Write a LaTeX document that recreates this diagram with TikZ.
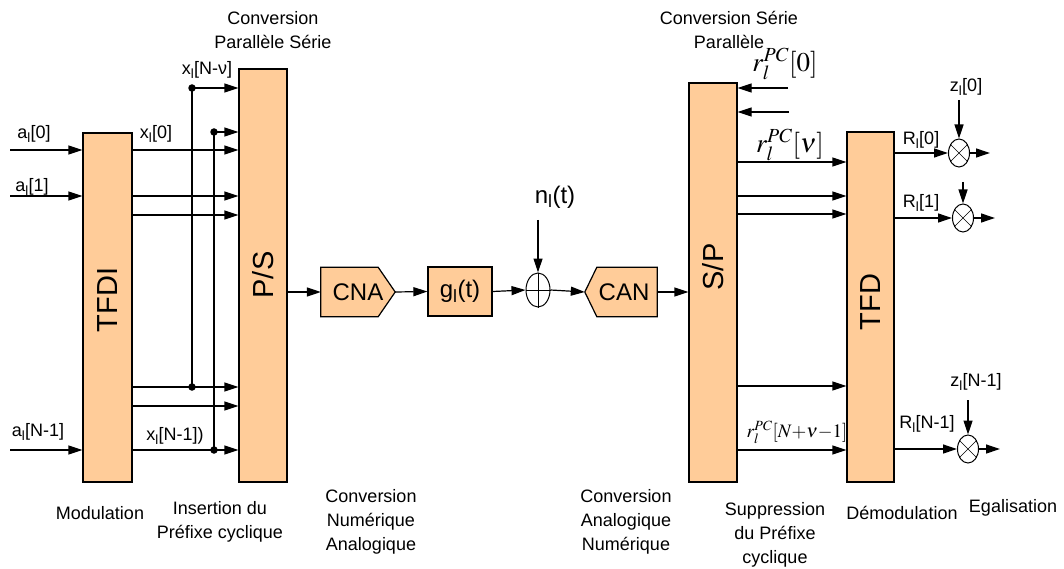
\documentclass[tikz,border=0pt]{standalone}
\usepackage{mathptmx}
\usepackage{fontspec}
\setmainfont{Liberation Sans}
\usepackage{tikz}
\usetikzlibrary{arrows.meta,shapes.geometric}
\definecolor{peach}{RGB}{255,204,153}
\tikzset{
  blk/.style={draw, fill=peach, line width=1.2pt, inner sep=0pt},
  fl/.style={line width=1.2pt, -{Triangle[length=14pt,width=9pt]}},
  lbl/.style={font=\fontsize{18}{24}\selectfont, align=center, inner sep=0pt},
  big/.style={font=\fontsize{29}{30}\selectfont, inner sep=0pt},
  mid/.style={font=\fontsize{24}{26}\selectfont, inner sep=0pt},
  mth/.style={font=\fontsize{27}{28}\selectfont, inner sep=0pt},
  mult/.style={draw, ellipse, line width=1pt, minimum width=21pt, minimum height=28pt, inner sep=0pt},
  dot/.style={circle, fill, minimum size=7.5pt, inner sep=0pt}
}

\begin{document}
\begin{tikzpicture}[x=1pt,y=-1pt]
\useasboundingbox (0,0) rectangle (1064,569);

% blocs
\node[blk, minimum width=49pt, minimum height=349pt] (tfdi) at (107.5,307.5) {};
\node[blk, minimum width=48pt, minimum height=413pt] (ps) at (263,275.5) {};
\node[blk, minimum width=48pt, minimum height=399pt] (sp) at (713,282.5) {};
\node[blk, minimum width=47pt, minimum height=350pt] (tfd) at (870.5,307) {};
\node[big, rotate=90] (tfdit) at (107.5,300) {TFDI};
\node[big, rotate=90] (pst) at (263,275) {P/S};
\node[big, rotate=90] (spt) at (713,267) {S/P};
\node[big, rotate=90] (tfdt) at (870.5,302) {TFD};

\node[minimum width=74pt, minimum height=49pt, inner sep=0pt] (cna) at (358,292) {};
\filldraw[fill=peach, line width=1.2pt, line join=miter] (cna.north west) -- ([xshift=-17pt]cna.north east)
  -- (cna.east) -- ([xshift=-17pt]cna.south east) -- (cna.south west) -- cycle;
\node[mid] (cnaname) at (cna) {CNA};
\node[blk, mid, minimum width=64pt, minimum height=49pt] (gl) at (460,291.5) {g\textsubscript{l}(t)};
\node[draw, ellipse, line width=1pt, minimum width=24pt, minimum height=34pt, inner sep=0pt] (add) at (538,290) {};
\draw[thin] (add.north) -- (add.south) (add.west) -- (add.east);
\node[minimum width=72pt, minimum height=49pt, inner sep=0pt] (can) at (621,292) {};
\filldraw[fill=peach, line width=1.2pt, line join=miter] (can.west) -- ([xshift=12pt]can.north west)
  -- (can.north east) -- (can.south east) -- ([xshift=12pt]can.south west) -- cycle;
\node[mid] (canname) at ([xshift=3pt]can.center) {CAN};

% entrees
\coordinate (ain0) at (10,150);
\coordinate (ain1) at (10,196);
\coordinate (ainN) at (10,450);
\foreach \a in {ain0,ain1,ainN}
  \draw[fl] (\a) -- (\a -| tfdi.west);
\node[lbl] (a0) at (34,134) {a\textsubscript{l}[0]};
\node[lbl] (a1) at (32,187) {a\textsubscript{l}[1]};
\node[lbl] (aN) at (38,432) {a\textsubscript{l}[N-1]};

% TFDI vers P/S
\foreach \y in {150,196,215,387,406,450}
  \draw[fl] (tfdi.east |- 0,\y) -- (ps.west |- 0,\y);
\coordinate (tapA) at (192,387);
\coordinate (tapB) at (214,450);
\draw[fl] (tapA) |- (ps.west |- 0,88);
\draw[fl] (tapB) |- (ps.west |- 0,132);
\node[dot] (dA1) at (tapA) {};
\node[dot] (dA2) at (tapA |- 0,88) {};
\node[dot] (dB1) at (tapB) {};
\node[dot] (dB2) at (tapB |- 0,132) {};
\node[lbl] (xNv) at (207,70) {x\textsubscript{l}[N-ν]};
\node[lbl] (x0) at (156,134) {x\textsubscript{l}[0]};
\node[lbl] (xN) at (175,436) {x\textsubscript{l}[N-1])};

% chaine
\draw[fl] (ps.east |- cna.west) -- (cna.west);
\draw[fl] (cna.east) -- (gl.west);
\draw[fl] (gl.east) -- (add.west);
\draw[fl] (add.east) -- (can.west);
\draw[fl] (can.east) -- (sp.west |- can.east);
\coordinate (nin) at (538,220);
\draw[fl] (nin) -- (add.north);
\node[mid] (nl) at (555,197) {n\textsubscript{l}(t)};

% S/P
\coordinate (pc0) at (788,88);
\coordinate (pc1) at (789,112);
\draw[fl] (pc0) -- (sp.east |- pc0);
\draw[fl] (pc1) -- (sp.east |- pc1);
\node[mth] (r0) at (785,64) {$r_l^{PC}[0]$};
\node[mth] (rv) at (790,145) {$r_l^{PC}[\nu]$};
\node[inner sep=0pt, font=\fontsize{19}{20}\selectfont] (rN) at (797,432) {$r_l^{PC}[N{+}\nu{-}1]$};
\foreach \y in {162,196,214,386,450}
  \draw[fl] (sp.east |- 0,\y) -- (tfd.west |- 0,\y);

% egalisation
\node[mult] (m0) at (959,153) {};
\node[mult] (m1) at (963,218) {};
\node[mult] (m2) at (968,449) {};
\foreach \m in {m0,m1,m2}{
  \draw[thin] (\m.45) -- (\m.225) (\m.135) -- (\m.315);
  \draw[fl] (tfd.east |- \m) -- (\m.west);
}
\coordinate (o0) at (990,153);
\coordinate (o1) at (995,218);
\coordinate (o2) at (1000,449);
\draw[fl] (m0.east) -- (o0);
\draw[fl] (m1.east) -- (o1);
\draw[fl] (m2.east) -- (o2);
\coordinate (z0) at (959,100);
\coordinate (z1) at (963,182);
\coordinate (z2) at (968,400);
\draw[fl] (z0) -- (m0.north);
\draw[fl] (z1) -- (m1.north);
\draw[fl] (z2) -- (m2.north);
\node[lbl] (zl0) at (966,87) {z\textsubscript{l}[0]};
\node[lbl] (zlN) at (976,382) {z\textsubscript{l}[N-1]};
\node[lbl] (R0) at (921,140) {R\textsubscript{l}[0]};
\node[lbl] (R1) at (921,203) {R\textsubscript{l}[1]};
\node[lbl] (RN) at (927,424) {R\textsubscript{l}[N-1]};

% legendes
\node[lbl] (cps) at (273,30) {Conversion\\Parallèle Série};
\node[lbl] (csp) at (729,30) {Conversion Série\\Parallèle};
\node[lbl] (modu) at (100,513) {Modulation};
\node[lbl] (ins) at (220,522) {Insertion du\\Préfixe cyclique};
\node[lbl] (cnat) at (371,522) {Conversion\\Numérique\\Analogique};
\node[lbl] (cant) at (626,522) {Conversion\\Analogique\\Numérique};
\node[lbl] (supp) at (775,535) {Suppression\\du Préfixe\\cyclique};
\node[lbl] (demo) at (902,513) {Démodulation};
\node[lbl] (ega) at (1013,508) {Egalisation};
\end{tikzpicture}
\end{document}
